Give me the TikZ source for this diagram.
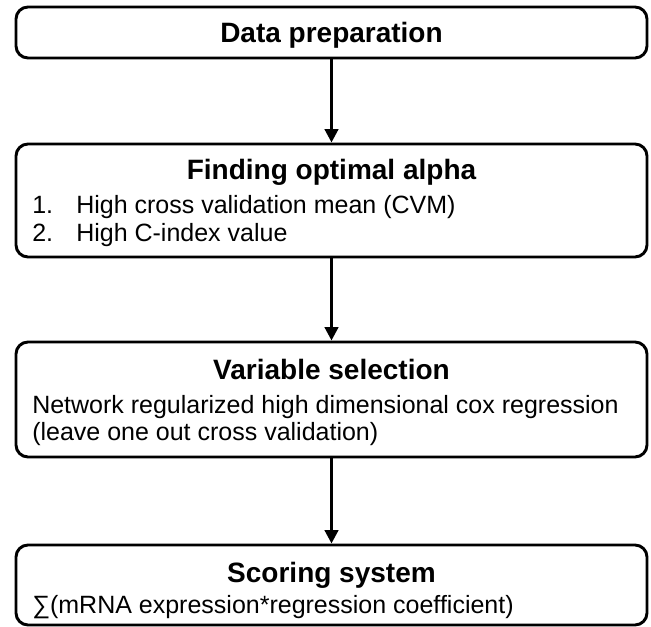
\documentclass[tikz,border=0pt]{standalone}
\usepackage{fontspec}
\setmainfont{Liberation Sans}
\usetikzlibrary{arrows.meta}
\begin{document}
\begin{tikzpicture}[x=0.75pt,y=-0.75pt,
  stage/.style={draw=black, line width=2.2pt, rounded corners=9pt,
    minimum width=473.25pt, inner sep=0pt},
  head/.style={font=\fontsize{21}{25}\selectfont\bfseries, anchor=base, inner sep=0pt},
  body/.style={font=\fontsize{18.75}{22}\selectfont, anchor=base west, inner sep=0pt},
  flow/.style={line width=2.2pt, -{Triangle[width=10pt,length=10pt]}}]
\useasboundingbox (0,0) rectangle (651,627);
% stage frames
\node[stage, minimum height=38.25pt] (prep)  at (331.5,32.5) {};
\node[stage, minimum height=84.75pt] (alpha) at (331.5,200.5) {};
\node[stage, minimum height=86.25pt] (vars)  at (331.5,399.5) {};
\node[stage, minimum height=60pt]    (score) at (331.5,585) {};
% stage 1
\node[head] (prepT) at (331.5,43) {Data preparation};
% stage 2
\node[head] (alphaT) at (331.5,180) {Finding optimal alpha};
\node[body] (alphaA) at (32,214) {\makebox[33pt][l]{1.}High cross validation mean (CVM)};
\node[body] (alphaB) at (32,242) {\makebox[33pt][l]{2.}High C-index value};
% stage 3
\node[head] (varsT) at (331.5,380) {Variable selection};
\node[body] (varsA) at (32,414) {Network regularized high dimensional cox regression};
\node[body] (varsB) at (32,441) {(leave one out cross validation)};
% stage 4
\node[head] (scoreT) at (331.5,583) {Scoring system};
\node[body] (scoreA) at (32,614) {∑(mRNA expression*regression coefficient)};
% connectors
\draw[flow] (prep.south)  -- (alpha.north);
\draw[flow] (alpha.south) -- (vars.north);
\draw[flow] (vars.south)  -- (score.north);
\end{tikzpicture}
\end{document}
